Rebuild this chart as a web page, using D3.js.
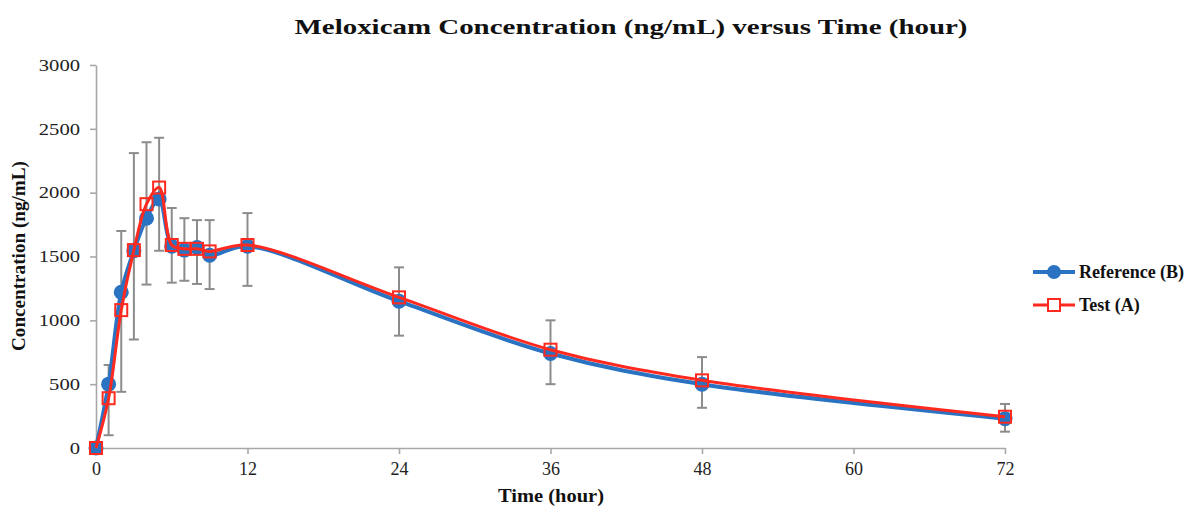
<!DOCTYPE html>
<html>
<head>
<meta charset="utf-8">
<script src="https://cdn.jsdelivr.net/npm/d3@7"></script>
<style>
  body { margin: 0; background: #fff; }
  svg { font-family: "Liberation Serif", "Times New Roman", serif; }
  .axis path, .axis line { stroke: #a8a8a8; stroke-width: 1.6; }
  .axis text { fill: #222; font-family: "Liberation Serif", "Times New Roman", serif; }
</style>
</head>
<body>
<svg id="chart"></svg>
<script>
// Data
var hours = [0, 1, 2, 3, 4, 5, 6, 7, 8, 9, 12, 24, 36, 48, 72];
var refB  = [0, 500, 1220, 1545, 1800, 1950, 1580, 1550, 1570, 1510, 1580, 1150, 740, 500, 230];
var testA = [0, 390, 1080, 1550, 1910, 2040, 1590, 1560, 1560, 1540, 1590, 1180, 770, 530, 245];
var errLow  = [0, 100, 440, 850, 1280, 1545, 1295, 1310, 1285, 1245, 1270, 880, 500, 315, 128];
var errHigh = [0, 650, 1700, 2310, 2395, 2430, 1880, 1800, 1785, 1785, 1840, 1415, 1000, 712, 345];
var xTicks = [0, 12, 24, 36, 48, 60, 72];
var yTicks = [0, 500, 1000, 1500, 2000, 2500, 3000];

// SVG size params
var width = 1198, height = 506;
var plot = {left: 96, right: 1005, top: 65, bottom: 448};

var svg = d3.select("#chart")
    .attr("width", width)
    .attr("height", height);

// Scales
var x = d3.scaleLinear().domain([0, 72]).range([plot.left, plot.right]);
var y = d3.scaleLinear().domain([0, 3000]).range([plot.bottom, plot.top]);

// Axes
var xAxis = d3.axisBottom(x).tickValues(xTicks).tickFormat(d3.format("d"))
    .tickSize(6).tickSizeOuter(0).tickPadding(8);
var yAxis = d3.axisLeft(y).tickValues(yTicks).tickFormat(d3.format("d"))
    .tickSize(6).tickSizeOuter(0).tickPadding(10);

svg.append("g")
    .attr("class", "axis")
    .attr("transform", "translate(0," + plot.bottom + ")")
    .call(xAxis)
  .selectAll("text")
    .attr("font-size", 18);

// y tick labels are drawn wide in the original, stretch them a bit
var sx = 1.25;
svg.append("g")
    .attr("class", "axis")
    .attr("transform", "translate(" + plot.left + ",0)")
    .call(yAxis)
  .selectAll("text")
    .attr("font-size", 16.5)
    .attr("x", -16 / sx)
    .attr("transform", "scale(" + sx + ",1)");

// Title and axis labels
svg.append("text")
    .attr("x", 631).attr("y", 34)
    .attr("text-anchor", "middle")
    .attr("font-size", 21).attr("font-weight", "bold").attr("fill", "#111")
    .attr("textLength", 673).attr("lengthAdjust", "spacingAndGlyphs")
    .text("Meloxicam Concentration (ng/mL) versus Time (hour)");

svg.append("text")
    .attr("x", 551).attr("y", 502)
    .attr("text-anchor", "middle")
    .attr("font-size", 18).attr("font-weight", "bold").attr("fill", "#111")
    .attr("textLength", 106).attr("lengthAdjust", "spacingAndGlyphs")
    .text("Time (hour)");

svg.append("text")
    .attr("transform", "translate(25,256) rotate(-90)")
    .attr("text-anchor", "middle")
    .attr("font-size", 18).attr("font-weight", "bold").attr("fill", "#111")
    .attr("textLength", 190).attr("lengthAdjust", "spacingAndGlyphs")
    .text("Concentration (ng/mL)");

// Error bars
var errData = hours.map(function(h, i) { return {h: h, lo: errLow[i], hi: errHigh[i]}; })
    .filter(function(d) { return d.hi > d.lo; });

var eb = svg.append("g").attr("stroke", "#8c8c8c").attr("stroke-width", 2);
eb.selectAll(".err").data(errData).enter().append("line")
    .attr("x1", d => x(d.h)).attr("x2", d => x(d.h))
    .attr("y1", d => y(d.lo)).attr("y2", d => y(d.hi));
eb.selectAll(".capHi").data(errData).enter().append("line")
    .attr("x1", d => x(d.h) - 5).attr("x2", d => x(d.h) + 5)
    .attr("y1", d => y(d.hi)).attr("y2", d => y(d.hi));
eb.selectAll(".capLo").data(errData).enter().append("line")
    .attr("x1", d => x(d.h) - 5).attr("x2", d => x(d.h) + 5)
    .attr("y1", d => y(d.lo)).attr("y2", d => y(d.lo));

// Smoothed lines
var line = d3.line()
    .x(d => x(d[0]))
    .y(d => y(d[1]))
    .curve(d3.curveCatmullRom.alpha(0.5));

var refPts = hours.map((h, i) => [h, refB[i]]);
var testPts = hours.map((h, i) => [h, testA[i]]);

var blue = "#2a73c2", red = "#ff2a1f";

svg.append("path").attr("d", line(refPts))
    .attr("fill", "none").attr("stroke", blue).attr("stroke-width", 4);

svg.selectAll(".refPt").data(refPts).enter().append("circle")
    .attr("cx", d => x(d[0])).attr("cy", d => y(d[1]))
    .attr("r", 7.5).attr("fill", blue);

svg.append("path").attr("d", line(testPts))
    .attr("fill", "none").attr("stroke", red).attr("stroke-width", 3);

svg.selectAll(".testPt").data(testPts).enter().append("rect")
    .attr("x", d => x(d[0]) - 6).attr("y", d => y(d[1]) - 6)
    .attr("width", 12).attr("height", 12)
    .attr("fill", "none").attr("stroke", red).attr("stroke-width", 2);

// Legend
var legend = svg.append("g").attr("transform", "translate(1033,272)");
legend.append("line").attr("x1", 0).attr("x2", 42).attr("y1", 0).attr("y2", 0)
    .attr("stroke", blue).attr("stroke-width", 4);
legend.append("circle").attr("cx", 21).attr("cy", 0).attr("r", 7).attr("fill", blue);
legend.append("text").attr("x", 46).attr("y", 6)
    .attr("font-size", 18).attr("font-weight", "bold").attr("fill", "#111").text("Reference (B)");

legend.append("line").attr("x1", 0).attr("x2", 42).attr("y1", 33).attr("y2", 33)
    .attr("stroke", red).attr("stroke-width", 3);
legend.append("rect").attr("x", 15).attr("y", 27).attr("width", 12).attr("height", 12)
    .attr("fill", "#fff").attr("stroke", red).attr("stroke-width", 2);
legend.append("text").attr("x", 46).attr("y", 39)
    .attr("font-size", 18).attr("font-weight", "bold").attr("fill", "#111").text("Test (A)");
</script>
</body>
</html>
